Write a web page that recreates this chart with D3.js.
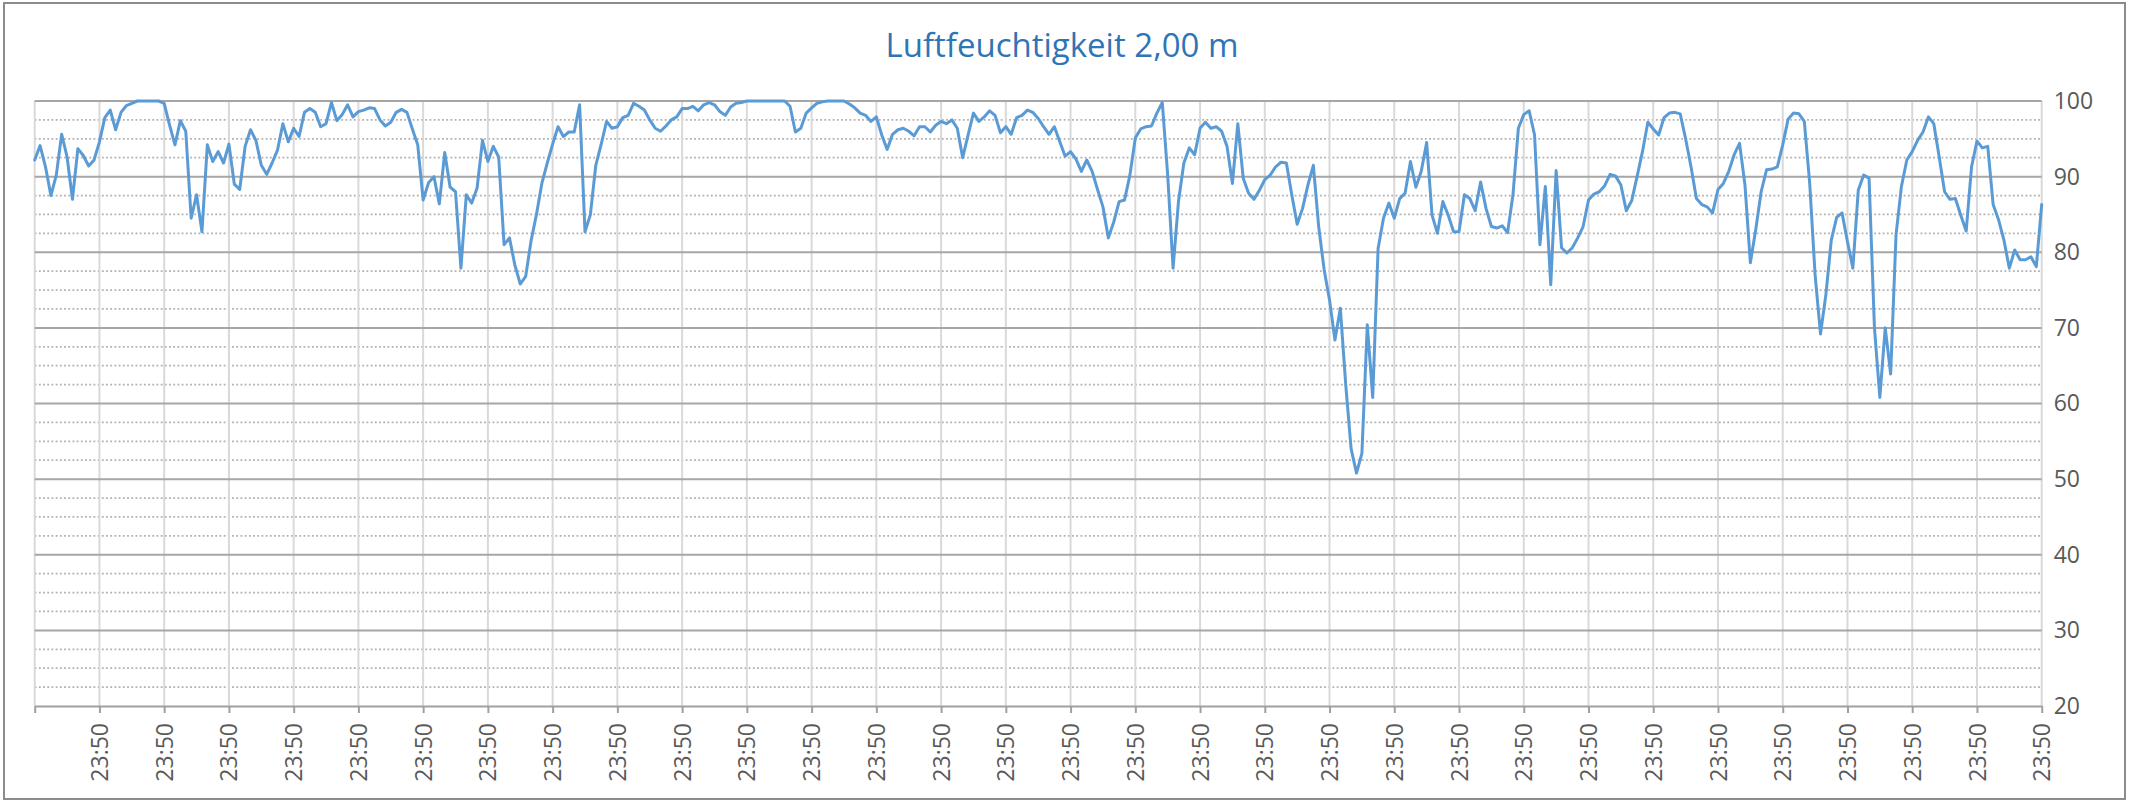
<!DOCTYPE html>
<html>
<head>
<meta charset="utf-8">
<script src="https://cdn.jsdelivr.net/npm/d3@7"></script>
<style>
body { margin: 0; background: #fff; }
svg { display: block; }
</style>
</head>
<body>
<script>
var chartTitle = "Luftfeuchtigkeit 2,00 m";

// y axis labels (right side)
var yTicks = [20, 30, 40, 50, 60, 70, 80, 90, 100];

// category labels, one per gridline after the first
var tickLabels = [];
for (var t = 0; t < 31; t++) tickLabels.push("23:50");

// relative humidity in %, 12 readings per labelled interval
var humidity = [
	92.2, 94.1, 91.3, 87.5, 90.2, 95.6, 92.6, 87.0, 93.7, 92.8, 91.4, 92.2,
	94.6, 97.8, 98.8, 96.2, 98.5, 99.4, 99.7, 100, 100, 100, 100, 100,
	99.7, 96.8, 94.2, 97.4, 96.0, 84.5, 87.6, 82.7, 94.2, 92.0, 93.3, 91.8,
	94.3, 89.0, 88.3, 94.0, 96.2, 94.8, 91.5, 90.3, 91.8, 93.5, 97.0, 94.6,
	96.4, 95.3, 98.5, 99.0, 98.5, 96.6, 97.0, 99.8, 97.4, 98.2, 99.5, 97.9,
	98.6, 98.8, 99.1, 99.0, 97.5, 96.7, 97.2, 98.5, 98.9, 98.5, 96.3, 94.2,
	86.9, 89.2, 90.0, 86.4, 93.2, 88.6, 88.0, 77.9, 87.6, 86.5, 88.5, 94.8,
	92.0, 94.0, 92.6, 81.0, 81.9, 78.3, 75.8, 76.8, 81.5, 85.0, 89.1, 91.8,
	94.3, 96.6, 95.3, 95.9, 95.9, 99.5, 82.7, 85.0, 91.5, 94.3, 97.3, 96.4,
	96.6, 97.8, 98.1, 99.7, 99.3, 98.8, 97.5, 96.4, 96.0, 96.7, 97.5, 97.9,
	99.0, 99.0, 99.3, 98.7, 99.5, 99.8, 99.5, 98.6, 98.1, 99.2, 99.7, 99.8,
	100, 100, 100, 100, 100, 100, 100, 100, 99.3, 95.9, 96.4, 98.4,
	99.1, 99.7, 99.9, 100, 100, 100, 100, 99.6, 99.1, 98.4, 98.1, 97.3,
	97.9, 95.5, 93.6, 95.6, 96.2, 96.4, 96.0, 95.4, 96.6, 96.6, 95.9, 96.8,
	97.3, 97.0, 97.5, 96.4, 92.5, 95.5, 98.4, 97.3, 97.9, 98.7, 98.1, 95.8,
	96.6, 95.6, 97.8, 98.1, 98.8, 98.5, 97.7, 96.6, 95.6, 96.6, 94.6, 92.7,
	93.3, 92.3, 90.7, 92.2, 90.7, 88.3, 86.0, 81.9, 84.0, 86.7, 86.9, 90.2,
	95.1, 96.3, 96.6, 96.7, 98.4, 99.8, 90.2, 77.9, 86.7, 91.8, 93.8, 92.9,
	96.4, 97.2, 96.4, 96.6, 96.0, 94.0, 89.1, 97.0, 89.8, 87.8, 87.0, 88.2,
	89.6, 90.2, 91.3, 91.9, 91.8, 87.6, 83.7, 85.8, 88.9, 91.5, 83.3, 77.7,
	73.7, 68.4, 72.6, 62.5, 54.0, 50.8, 53.4, 70.4, 60.8, 80.5, 84.5, 86.5,
	84.5, 87.1, 87.8, 92.0, 88.6, 90.7, 94.5, 84.9, 82.5, 86.7, 84.9, 82.7,
	82.7, 87.6, 87.1, 85.5, 89.3, 85.8, 83.4, 83.2, 83.5, 82.6, 87.6, 96.4,
	98.2, 98.7, 95.5, 81.0, 88.7, 75.7, 90.8, 80.6, 79.9, 80.6, 81.9, 83.4,
	86.9, 87.7, 88.0, 88.8, 90.3, 90.1, 88.9, 85.5, 86.8, 90.0, 93.3, 97.2,
	96.3, 95.5, 97.8, 98.4, 98.5, 98.3, 95.0, 91.3, 87.1, 86.3, 86.0, 85.2,
	88.3, 89.1, 90.7, 92.9, 94.4, 88.9, 78.6, 83.0, 88.0, 90.9, 91.0, 91.3,
	94.2, 97.6, 98.4, 98.3, 97.3, 89.1, 77.0, 69.2, 74.4, 81.6, 84.6, 85.2,
	81.4, 77.9, 88.2, 90.2, 89.8, 70.0, 60.8, 70.0, 63.9, 82.3, 88.7, 92.2,
	93.3, 94.8, 95.9, 97.9, 97.0, 92.6, 88.0, 87.0, 87.1, 84.9, 82.8, 91.3,
	94.7, 93.8, 94.0, 86.3, 84.3, 81.6, 77.9, 80.3, 79.0, 79.0, 79.4, 78.1, 86.3
];

var width = 2130, height = 803;
var plotLeft = 34.7, plotRight = 2041.7, plotTop = 101, plotBottom = 706;
var fontFamily = "'Open Sans', 'DejaVu Sans', sans-serif";

var svg = d3.select("body").append("svg").attr("width", width).attr("height", height);

//Outer chart frame.
svg.append("rect").attr("x", 4).attr("y", 3).attr("width", 2121).attr("height", 796)
	.style("fill", "#fff").style("stroke", "#8c8c8c").style("stroke-width", 2);

var x = d3.scaleLinear().domain([0, humidity.length - 1]).range([plotLeft, plotRight]);
var y = d3.scaleLinear().domain([20, 100]).range([plotBottom, plotTop]);

var perLabel = (humidity.length - 1) / tickLabels.length;
var xTickValues = d3.range(0, tickLabels.length + 1).map(function(i) { return i * perLabel; });

//Minor dotted gridlines every 2.5.
var minor = d3.range(22.5, 100, 2.5).filter(function(v) { return v % 10 != 0; });
svg.append("g").selectAll("line").data(minor).enter().append("line")
	.attr("x1", plotLeft).attr("x2", plotRight)
	.attr("y1", function(d) { return y(d); }).attr("y2", function(d) { return y(d); })
	.style("stroke", "#b0b0b0").style("stroke-width", 1.8).style("stroke-dasharray", "1.8,2.4");

//Vertical gridlines.
svg.append("g").selectAll("line").data(xTickValues).enter().append("line")
	.attr("x1", function(d) { return x(d); }).attr("x2", function(d) { return x(d); })
	.attr("y1", plotTop).attr("y2", plotBottom)
	.style("stroke", "#d9d9d9").style("stroke-width", 2);

//Major gridlines every 10.
svg.append("g").selectAll("line").data(yTicks.slice(1)).enter().append("line")
	.attr("x1", plotLeft).attr("x2", plotRight)
	.attr("y1", function(d) { return y(d); }).attr("y2", function(d) { return y(d); })
	.style("stroke", "#a6a6a6").style("stroke-width", 2);

//Bottom category axis.
var xAxis = d3.axisBottom(x).tickValues(xTickValues).tickSize(7).tickSizeOuter(0)
	.tickFormat(function(d, i) { return i == 0 ? "" : tickLabels[i - 1]; });
var gx = svg.append("g").attr("transform", "translate(0," + plotBottom + ")").call(xAxis);
gx.select(".domain").style("stroke", "#a0a0a0").style("stroke-width", 2);
gx.selectAll(".tick line").style("stroke", "#a0a0a0").style("stroke-width", 2);
gx.selectAll(".tick text").attr("y", 0).attr("x", -17).attr("dy", "0.35em")
	.attr("transform", "rotate(-90)").style("text-anchor", "end")
	.style("font-family", fontFamily).style("font-size", "23px").style("fill", "#595959");

//Right value axis.
var yAxis = d3.axisRight(y).tickValues(yTicks).tickSize(0).tickPadding(12);
var gy = svg.append("g").attr("transform", "translate(" + plotRight + ",0)").call(yAxis);
gy.select(".domain").remove();
gy.selectAll("text").style("font-family", fontFamily).style("font-size", "23px").style("fill", "#595959");

//The humidity line.
var line = d3.line().x(function(d, i) { return x(i); }).y(function(d) { return y(d); });
svg.append("path").datum(humidity).attr("d", line)
	.style("fill", "none").style("stroke", "#5b9bd5").style("stroke-width", 3)
	.style("stroke-linejoin", "round").style("stroke-linecap", "round");

//Title.
svg.append("text").text(chartTitle).attr("x", 1062).attr("y", 57)
	.style("text-anchor", "middle").style("font-family", fontFamily)
	.style("font-size", "33px").style("fill", "#2e75b6");
</script>
</body>
</html>
